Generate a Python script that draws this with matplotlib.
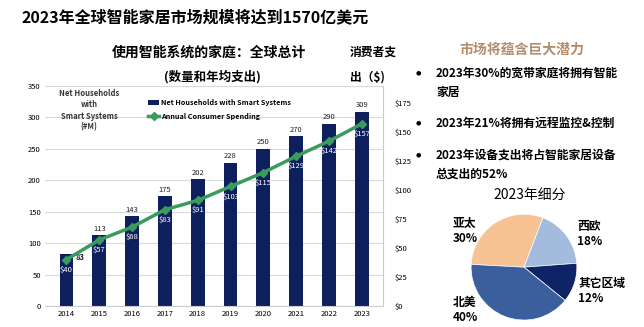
import matplotlib
matplotlib.use("Agg")
import matplotlib.pyplot as plt

plt.rcParams["font.family"] = ["Noto Sans CJK SC", "DejaVu Sans"]

# ---------------------------------------------------------------------------
# Data
# ---------------------------------------------------------------------------
years = ["2014", "2015", "2016", "2017", "2018", "2019", "2020", "2021", "2022", "2023"]
households = [83, 113, 143, 175, 202, 228, 250, 270, 290, 309]
spending = [40, 57, 68, 83, 91, 103, 115, 129, 142, 157]
left_ticks = [0, 50, 100, 150, 200, 250, 300, 350]
right_ticks = [0, 25, 50, 75, 100, 125, 150, 175]

regions = ["亚太", "西欧", "其它区域", "北美"]
shares = [30, 18, 12, 40]
region_colors = ["#f8c393", "#a3bbdd", "#0f2466", "#3b5f9c"]

bullets = [
    ["2023年30%的宽带家庭将拥有智能", "家居"],
    ["2023年21%将拥有远程监控&控制"],
    ["2023年设备支出将占智能家居设备", "总支出的52%"],
]

BAR_COLOR = "#0e1f5e"
LINE_COLOR = "#3a9c5c"

fig = plt.figure(figsize=(6.44, 3.27), dpi=100)

# ---------------------------------------------------------------------------
# Titles
# ---------------------------------------------------------------------------
fig.text(0.034, 0.948, "2023年全球智能家居市场规模将达到1570亿美元",
         fontsize=11.5, fontweight="bold", va="center", ha="left")
fig.text(0.325, 0.84, "使用智能系统的家庭：全球总计", fontsize=10,
         fontweight="bold", ha="center", va="center")
fig.text(0.33, 0.765, "(数量和年均支出)", fontsize=9,
         fontweight="bold", ha="center", va="center")
fig.text(0.543, 0.84, "消费者支", fontsize=8.5, fontweight="bold",
         ha="left", va="center")
fig.text(0.543, 0.765, "出（$)", fontsize=8.5, fontweight="bold",
         ha="left", va="center")

# ---------------------------------------------------------------------------
# Bar + line chart
# ---------------------------------------------------------------------------
ax = fig.add_axes([0.07, 0.064, 0.525, 0.673])
x = list(range(len(years)))
ax.bar(x, households, width=0.42, color=BAR_COLOR, zorder=2,
       label="Net Households with Smart Systems")
ax.set_ylim(0, 350)
ax.set_xlim(-0.65, len(years) - 0.35)
ax.set_yticks(left_ticks)
ax.set_xticks(x)
ax.set_xticklabels(years)
ax.tick_params(axis="both", labelsize=5.5, length=0, pad=3)
ax.yaxis.grid(True, color="#d9d9d9", linewidth=0.8, zorder=0)
for side in ["top", "left"]:
    ax.spines[side].set_visible(False)
ax.spines["bottom"].set_color("#cccccc")
ax.spines["right"].set_color("#cccccc")

for i, v in enumerate(households):
    if i == 0:
        ax.text(i + 0.42, v - 5, str(v), fontsize=5.5, ha="center", va="center",
                fontweight="bold", color="#222222", zorder=5)
    else:
        ax.text(i, v + 4, str(v), fontsize=5.5, ha="center", va="bottom",
                color="#222222", zorder=5)

ax2 = ax.twinx()
ax2.plot(x, spending, color=LINE_COLOR, linewidth=2.5, marker="D",
         markersize=4, zorder=3, label="Annual Consumer Spending")
ax2.set_ylim(0, 189.5)
ax2.set_yticks(right_ticks)
ax2.set_yticklabels([f"${t}" for t in right_ticks])
ax2.tick_params(axis="y", labelsize=5.5, length=0, pad=8)
for side in ["top", "left", "bottom", "right"]:
    ax2.spines[side].set_visible(False)
for i, v in enumerate(spending):
    ax2.text(i, v - 5, f"${v}", fontsize=5.5, ha="center", va="top",
             color="white", zorder=5)

ax.text(0.13, 0.985, "Net Households\nwith\nSmart Systems\n(#M)",
        transform=ax.transAxes, fontsize=5.5, ha="center", va="top",
        fontweight="bold", color="#333333", linespacing=1.3)

h1, l1 = ax.get_legend_handles_labels()
h2, l2 = ax2.get_legend_handles_labels()
leg = ax2.legend(h1 + h2, l1 + l2, loc="upper left",
                 bbox_to_anchor=(0.285, 0.97), frameon=False,
                 prop=dict(size=5.2, weight="bold"),
                 handlelength=1.6, handletextpad=0.2, labelspacing=0.9)

# ---------------------------------------------------------------------------
# Right-hand text panel
# ---------------------------------------------------------------------------
fig.text(0.81, 0.848, "市场将蕴含巨大潜力", fontsize=10, fontweight="bold",
         color="#b58c6a", ha="center", va="center")
bullet_y = [0.776, 0.624, 0.526]
line_gap = 0.058
for yb, lines in zip(bullet_y, bullets):
    fig.text(0.645, yb, "●", fontsize=4.5, ha="left", va="center",
             family="DejaVu Sans")
    for k, txt in enumerate(lines):
        fig.text(0.677, yb - k * line_gap, txt, fontsize=8.5,
                 fontweight="bold", ha="left", va="center")
fig.text(0.822, 0.404, "2023年细分", fontsize=10, ha="center", va="center")

# ---------------------------------------------------------------------------
# Pie
# ---------------------------------------------------------------------------
pax = fig.add_axes([0.7298, 0.018, 0.1677, 0.330])
pax.pie(shares, colors=region_colors, startangle=177, counterclock=False,
        wedgeprops=dict(linewidth=0.5, edgecolor="white"))
pax.set_xlim(-1.02, 1.02)
pax.set_ylim(-1.02, 1.02)
pax.set_aspect("equal")

pie_labels = [
    (0.703, 0.294, "亚太\n30%"),
    (0.896, 0.284, "西欧\n18%"),
    (0.898, 0.110, "其它区域\n12%"),
    (0.703, 0.052, "北美\n40%"),
]
for lx, ly, lt in pie_labels:
    fig.text(lx, ly, lt, fontsize=8.5, fontweight="bold", ha="left",
             va="center", linespacing=1.25)

fig.savefig("out.png", dpi=100)
plt.close(fig)
